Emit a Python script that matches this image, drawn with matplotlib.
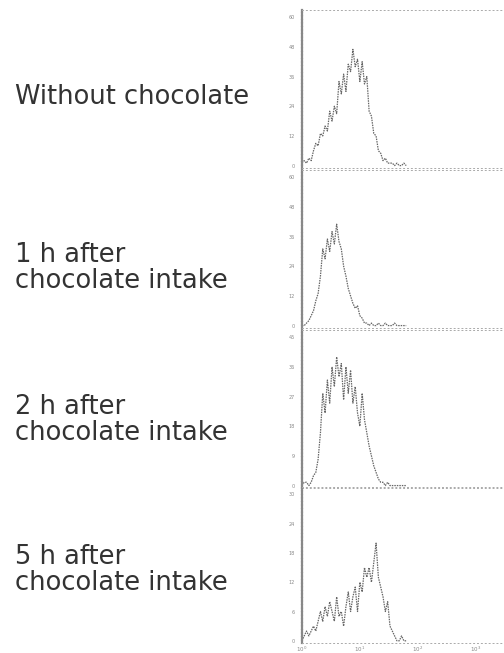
import numpy as np
import matplotlib.pyplot as plt

# channel positions (log10 of fluorescence), one value every 0.04 decade
log_ch = np.arange(0, 1.84, 0.04)

counts_0h = [1, 2, 1, 3, 2, 6, 9, 8, 13, 12, 16, 14, 22, 18, 24, 21, 34, 29, 37, 30,
             41, 38, 47, 40, 43, 34, 42, 33, 36, 22, 20, 13, 12, 6, 5, 2, 3, 1, 1, 1,
             0, 1, 0, 0, 1, 0]
counts_1h = [0, 0, 1, 2, 4, 6, 10, 13, 20, 31, 27, 35, 30, 38, 33, 41, 34, 31, 24, 20,
             15, 12, 9, 7, 8, 4, 3, 1, 1, 0, 1, 0, 0, 1, 0, 0, 1, 0, 0, 0,
             1, 0, 0, 0, 0, 0]
counts_2h = [0, 1, 1, 0, 1, 3, 4, 8, 16, 28, 22, 32, 25, 36, 30, 39, 33, 37, 26, 36,
             28, 35, 25, 30, 22, 18, 28, 20, 16, 12, 9, 6, 4, 2, 1, 1, 0, 1, 0, 0,
             0, 0, 0, 0, 0, 0]
counts_5h = [0, 1, 2, 1, 2, 3, 2, 4, 6, 4, 7, 5, 8, 6, 4, 9, 5, 6, 3, 7,
             10, 6, 9, 11, 6, 12, 10, 15, 13, 15, 12, 16, 20, 13, 11, 9, 6, 8, 3, 2,
             1, 0, 0, 1, 0, 0]

labels = ["Without chocolate", "1 h after\nchocolate intake",
          "2 h after\nchocolate intake", "5 h after\nchocolate intake"]
ymax = [60, 60, 45, 30]
ysteps = [12, 12, 9, 6]

fig = plt.figure(figsize=(5.04, 6.53), dpi=100)

# panel boxes in figure fractions: bottom, height
boxes = [(0.743, 0.242), (0.498, 0.242), (0.253, 0.242), (0.0153, 0.239)]
label_y = [97, 268, 420, 570]

for i, counts in enumerate([counts_0h, counts_1h, counts_2h, counts_5h]):
    b, h = boxes[i]
    ax = fig.add_axes([0.599, b, 0.399, h])
    ax.plot(10 ** log_ch, counts, color='#666666', lw=0.9, ls=(0, (1.2, 0.8)))
    ax.set_xscale('log')
    ax.set_xlim(1, 10 ** 3.47)
    ax.set_ylim(-ymax[i] * 0.015, ymax[i] * 1.05)
    ax.set_yticks(np.arange(0, ymax[i] + 1, ysteps[i]))
    ax.tick_params(axis='y', labelsize=3.5, labelcolor='#888888', length=0, pad=5)
    ax.tick_params(axis='x', which='both', length=0)
    ax.minorticks_off()
    if i == 3:
        ax.set_xticks([1, 10, 100, 1000])
        ax.set_xticklabels(['$10^0$', '$10^1$', '$10^2$', '$10^3$'])
        ax.tick_params(axis='x', labelsize=4, labelcolor='#888888', pad=1)
    else:
        ax.set_xticks([])
    ax.spines['right'].set_visible(False)
    ax.spines['left'].set_color('#888888')
    ax.spines['left'].set_linewidth(1.6)
    ax.spines['left'].set_linestyle((0, (1, 0.6)))
    for s in ['top', 'bottom']:
        ax.spines[s].set_color('#aaaaaa')
        ax.spines[s].set_linewidth(0.7)
        ax.spines[s].set_linestyle((0, (1, 3)))
    ax.patch.set_alpha(0)

    fig.text(15 / 504, 1 - label_y[i] / 653, labels[i], fontsize=18.5,
             family='DejaVu Sans', color='#333333', va='center', ha='left',
             linespacing=1.0)

fig.savefig('out.png', dpi=100)
